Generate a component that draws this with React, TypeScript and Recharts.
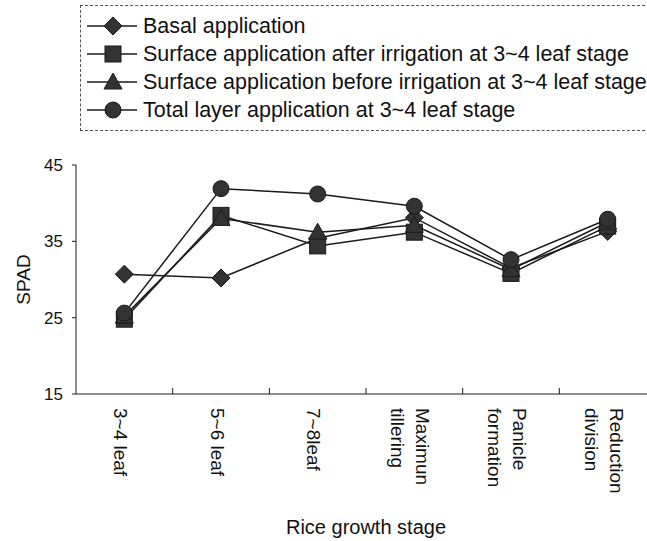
import { ComposedChart, Line, XAxis, YAxis, Legend, Label } from 'recharts';

const STAGES = ['3~4 leaf', '5~6 leaf', '7~8leaf', 'Maximun\ntillering', 'Panicle\nformation', 'Reduction\ndivision'];
const BASAL = [30.7, 30.2, 35.4, 38.1, 31.5, 36.3];
const SURFACE_AFTER = [24.8, 38.4, 34.4, 36.2, 30.8, 37.0];
const SURFACE_BEFORE = [25.2, 38.0, 36.2, 37.1, 31.3, 37.5];
const TOTAL_LAYER = [25.6, 41.9, 41.2, 39.6, 32.6, 37.9];
const Y_TICKS = [15, 25, 35, 45];

const SERIES = [
  { key: 'basal', name: 'Basal application', shape: 'diamond' },
  { key: 'after', name: 'Surface application after irrigation at 3~4 leaf stage', shape: 'square' },
  { key: 'before', name: 'Surface application before irrigation at 3~4 leaf stage', shape: 'triangle' },
  { key: 'total', name: 'Total layer application at 3~4 leaf stage', shape: 'circle' },
];

const data = STAGES.map((stage, i) => ({
  stage,
  basal: BASAL[i],
  after: SURFACE_AFTER[i],
  before: SURFACE_BEFORE[i],
  total: TOTAL_LAYER[i],
}));

const FONT = '"Liberation Sans", Arial, sans-serif';
const INK = '#1a1a1a';
const MARK = '#333';

function Marker({ shape, cx, cy }: { shape: string; cx: number; cy: number }) {
  if (cx == null || cy == null) return null;
  if (shape === 'diamond') {
    return <polygon points={`${cx},${cy - 9} ${cx + 9},${cy} ${cx},${cy + 9} ${cx - 9},${cy}`} fill={MARK} stroke={INK} />;
  }
  if (shape === 'square') {
    return <rect x={cx - 8} y={cy - 8} width={16} height={16} fill={MARK} stroke={INK} />;
  }
  if (shape === 'triangle') {
    return <polygon points={`${cx},${cy - 9} ${cx + 9},${cy + 7} ${cx - 9},${cy + 7}`} fill={MARK} stroke={INK} />;
  }
  return <circle cx={cx} cy={cy} r={8} fill={MARK} stroke={INK} />;
}

// rotated stage label + small tick between categories
function StageTick(props: any) {
  const { x, y, payload, index, width, visibleTicksCount } = props;
  const lines = String(payload.value).split('\n');
  const lh = 25;
  const half = payload.offset || (width && visibleTicksCount ? width / visibleTicksCount / 2 : 0);
  return (
    <g>
      {index > 0 && <line x1={x - half} x2={x - half} y1={y} y2={y - 6} stroke={INK} />}
      <g transform={`translate(${x},${y + 14}) rotate(90)`}>
        <text x={0} y={0} fontSize={19} fontFamily={FONT} fill="#111" textAnchor="start">
          {lines.map((ln, i) => (
            <tspan key={i} x={0} y={4 - ((lines.length - 1) / 2) * lh + i * lh} dominantBaseline="central">
              {ln}
            </tspan>
          ))}
        </text>
      </g>
    </g>
  );
}

function LegendBox() {
  return (
    <div
      style={{
        border: '1px dashed #555',
        borderRight: 'none',
        height: 126,
        boxSizing: 'border-box',
        paddingTop: 6,
        fontFamily: FONT,
        fontSize: 21.5,
        color: '#111',
      }}
    >
      {SERIES.map((s) => (
        <div key={s.key} style={{ display: 'flex', alignItems: 'center', height: 28, whiteSpace: 'nowrap' }}>
          <svg width={62} height={28} style={{ flex: 'none' }}>
            <line x1={6} x2={56} y1={14} y2={14} stroke={INK} strokeWidth={1.5} />
            <Marker shape={s.shape} cx={32} cy={14} />
          </svg>
          <span>{s.name}</span>
        </div>
      ))}
    </div>
  );
}

export default function App() {
  return (
    <div style={{ position: 'absolute', left: 0, top: 0, width: 647, height: 541, overflow: 'hidden', background: '#fff' }}>
      <ComposedChart width={660} height={541} data={data} margin={{ top: 165, right: 4, left: 0, bottom: 0 }}>
        <XAxis
          dataKey="stage"
          scale="band"
          height={147}
          interval={0}
          tickSize={0}
          tickMargin={0}
          tickLine={false}
          axisLine={{ stroke: INK }}
          tick={<StageTick />}
        >
          <Label
            content={({ viewBox }: any) => (
              <text
                x={viewBox.x + viewBox.width / 2}
                y={viewBox.y + 133}
                textAnchor="middle"
                dominantBaseline="central"
                fontSize={20}
                fontFamily={FONT}
                fill="#111"
              >
                Rice growth stage
              </text>
            )}
          />
        </XAxis>
        <YAxis
          width={76}
          domain={[15, 45]}
          ticks={Y_TICKS}
          interval={0}
          tickSize={4}
          tickMargin={9}
          axisLine={{ stroke: INK }}
          tickLine={{ stroke: INK }}
          tick={{ fontSize: 17, fontFamily: FONT, fill: '#111' }}
        >
          <Label
            content={({ viewBox }: any) => (
              <text
                x={23}
                y={viewBox.y + viewBox.height / 2}
                transform={`rotate(-90, 23, ${viewBox.y + viewBox.height / 2})`}
                textAnchor="middle"
                dominantBaseline="central"
                fontSize={19}
                fontFamily={FONT}
                fill="#111"
              >
                SPAD
              </text>
            )}
          />
        </YAxis>
        <Legend
          layout="vertical"
          align="center"
          verticalAlign="middle"
          wrapperStyle={{ left: 80, top: 5, width: 580 }}
          content={<LegendBox />}
        />
        {SERIES.map((s) => (
          <Line
            key={s.key}
            dataKey={s.key}
            name={s.name}
            stroke={INK}
            strokeWidth={1.5}
            isAnimationActive={false}
            dot={(p: any) => <Marker key={`${s.key}-${p.index}`} shape={s.shape} cx={p.cx} cy={p.cy} />}
            activeDot={false}
          />
        ))}
      </ComposedChart>
    </div>
  );
}
